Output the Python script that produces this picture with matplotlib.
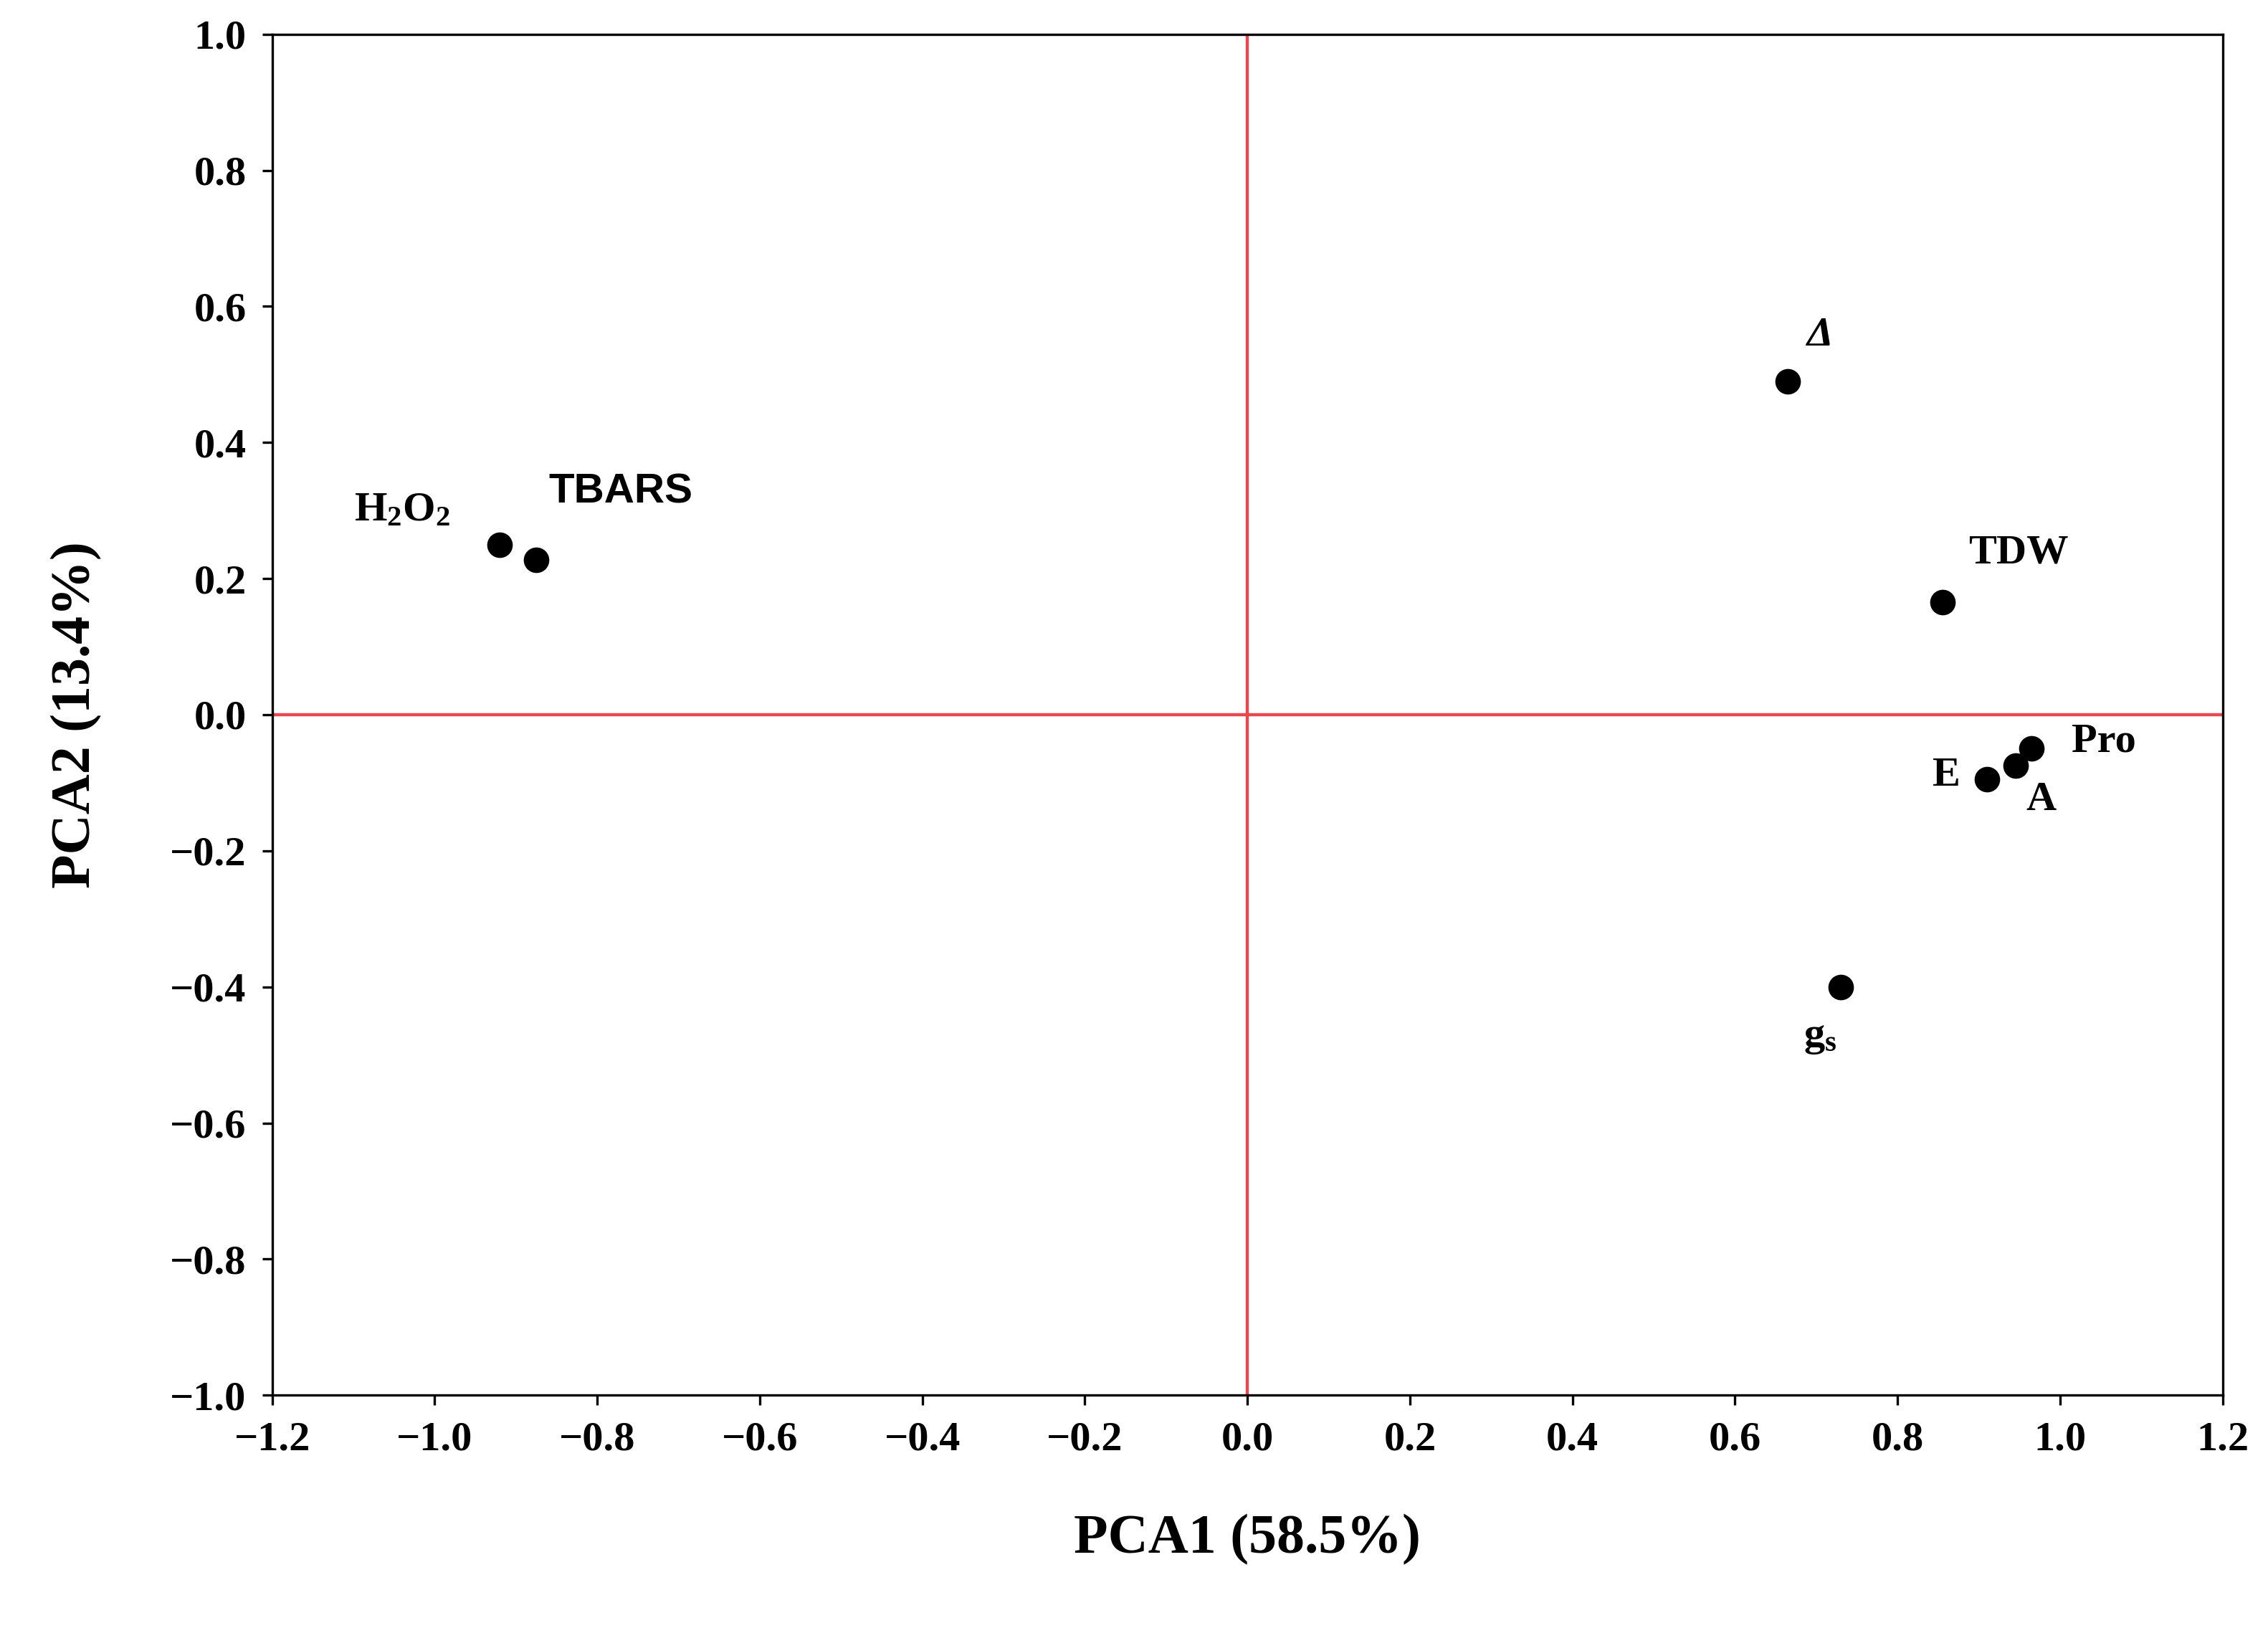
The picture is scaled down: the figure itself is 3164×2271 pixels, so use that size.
import matplotlib
matplotlib.use("Agg")
import matplotlib.pyplot as plt
import numpy as np

plt.rcParams["mathtext.fontset"] = "custom"
plt.rcParams["mathtext.rm"] = "Liberation Serif:bold"
plt.rcParams["mathtext.it"] = "Liberation Serif:italic:bold"
plt.rcParams["mathtext.bf"] = "Liberation Serif:bold"

names = ["H2O2", "TBARS", "Delta", "TDW", "Pro", "A", "E", "gs"]
pc1 = [-0.92, -0.875, 0.665, 0.855, 0.965, 0.945, 0.91, 0.73]
pc2 = [0.25, 0.228, 0.49, 0.165, -0.05, -0.075, -0.095, -0.40]
xticks = np.round(np.arange(-1.2, 1.21, 0.2), 1)
yticks = np.round(np.arange(-1.0, 1.01, 0.2), 1)

def fmt(v):
    v = 0.0 if abs(v) < 1e-9 else v
    return f"{v:.1f}".replace("-", "\u2212")

fig = plt.figure(figsize=(15.82, 11.355), dpi=200)
ax = fig.add_axes([0.12, 0.143, 0.86, 0.836])
ax.set_xlim(-1.2, 1.2)
ax.set_ylim(-1.0, 1.0)
ax.axhline(0, color="#e8474f", lw=1.6, zorder=1)
ax.axvline(0, color="#e8474f", lw=1.6, zorder=1)
ax.scatter(pc1, pc2, s=140, color="black", zorder=3)

serif = dict(family="Liberation Serif", fontweight="bold", fontsize=21)
ax.text(-1.04, 0.30, r"H$_\mathrm{2}$O$_\mathrm{2}$", ha="center", va="center", **serif)
ax.text(-0.86, 0.327, "TBARS", ha="left", va="center", family="Liberation Sans", fontweight="bold", fontsize=21)
ax.text(0.705, 0.557, "\u0394", ha="center", va="center", family="Liberation Serif", fontweight="bold", fontstyle="italic", fontsize=21)
ax.text(0.949, 0.237, "TDW", ha="center", va="center", **serif)
ax.text(1.054, -0.04, "Pro", ha="center", va="center", **serif)
ax.text(0.977, -0.125, "A", ha="center", va="center", **serif)
ax.text(0.86, -0.09, "E", ha="center", va="center", **serif)
ax.text(0.705, -0.474, r"g$_\mathrm{s}$", ha="center", va="center", **serif)

ax.set_xticks(xticks)
ax.set_yticks(yticks)
ax.set_xticklabels([fmt(v) for v in xticks])
ax.set_yticklabels([fmt(v) for v in yticks])
for lab in ax.get_xticklabels() + ax.get_yticklabels():
    lab.set_family("Liberation Serif"); lab.set_fontweight("bold"); lab.set_fontsize(21)
ax.tick_params(direction="out", length=5, width=1.2, pad=8)
for s in ax.spines.values():
    s.set_linewidth(1.2)
ax.set_xlabel("PCA1 (58.5%)", family="Liberation Serif", fontweight="bold", fontsize=28, labelpad=28)
ax.set_ylabel("PCA2 (13.4%)", family="Liberation Serif", fontweight="bold", fontsize=28, labelpad=34)
fig.savefig("out.png", dpi=200)
